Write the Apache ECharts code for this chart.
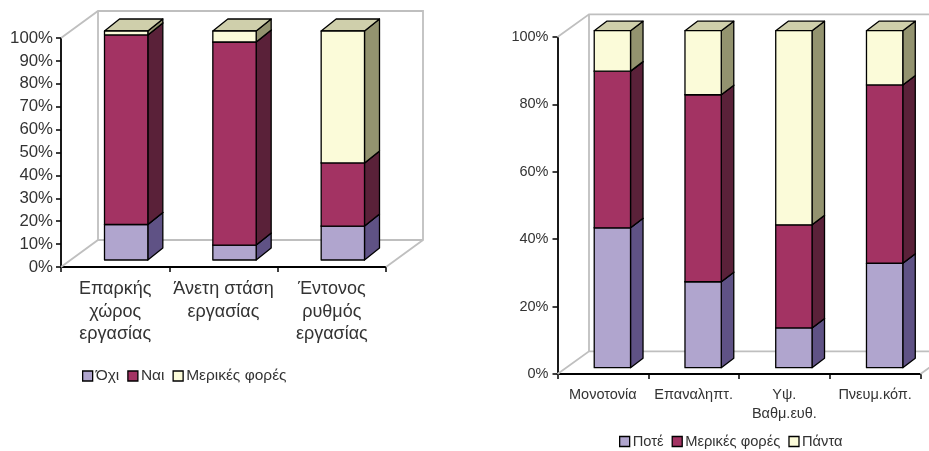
<!DOCTYPE html>
<html>
<head>
<meta charset="utf-8">
<script src="https://cdn.jsdelivr.net/npm/echarts@6/dist/echarts.min.js"></script>
<style>
html,body{margin:0;padding:0;background:#fff;overflow:hidden}
#chart{width:929px;height:451px}
</style>
</head>
<body>
<div id="chart"></div>
<script>
// Left panel: working-conditions answers, per cent
const leftCategories = ['Επαρκής\nχώρος\nεργασίας', 'Άνετη στάση\nεργασίας', 'Έντονος\nρυθμός\nεργασίας'];
const leftNames = ['Όχι', 'Ναι', 'Μερικές φορές'];
const leftNo = [15.5, 6.5, 14.8];
const leftYes = [82.8, 88.7, 27.6];
const leftSometimes = [1.7, 4.8, 57.6];

// Right panel: job-demand answers, per cent
const rightCategories = ['Μονοτονία', 'Επαναληπτ.', 'Υψ.\nΒαθμ.ευθ.', 'Πνευμ.κόπ.'];
const rightNames = ['Ποτέ', 'Μερικές φορές', 'Πάντα'];
const rightNever = [41.5, 25.5, 11.8, 31.0];
const rightSometimes = [46.5, 55.5, 30.6, 52.9];
const rightAlways = [12.0, 19.0, 57.6, 16.1];

// Front, side and top face colours of the three stacked layers
const faceColors = [
  { front: '#B0A5CE', side: '#5F5285', top: '#8A80A8' },
  { front: '#A33363', side: '#5A2139', top: '#7A2A4B' },
  { front: '#FBFBD9', side: '#93936F', top: '#CFCFAB' }
];
const wallColor = '#BFBFBF';
const inkColor = '#333333';

const chart = echarts.init(document.getElementById('chart'));

function poly(points, fill) {
  return {
    type: 'polygon',
    shape: { points },
    style: { fill, stroke: '#000', lineWidth: 1.3, lineJoin: 'round' }
  };
}

// Back wall and floor outline behind the bars, projected from the plot rectangle
function wallSeries(axisIndex, count, depth) {
  return {
    type: 'custom',
    xAxisIndex: axisIndex,
    yAxisIndex: axisIndex,
    silent: true,
    clip: false,
    z: 1,
    data: [[0, 0]],
    renderItem(params, api) {
      const band = api.size([1, 0])[0];
      const x0 = api.coord([0, 0])[0] - band / 2;
      const x1 = api.coord([count - 1, 0])[0] + band / 2;
      const yB = api.coord([0, 0])[1];
      const yT = api.coord([0, 100])[1];
      const dx = depth.wallX, dy = depth.wallY;
      const style = { fill: 'none', stroke: wallColor, lineWidth: 1.8 };
      const line = pts => ({ type: 'polyline', shape: { points: pts }, style });
      return {
        type: 'group',
        children: [
          line([[x0, yT], [x0 + dx, yT - dy], [x1 + dx, yT - dy], [x1 + dx, yB - dy], [x1, yB]]),
          line([[x0, yB], [x0 + dx, yB - dy], [x1 + dx, yB - dy]]),
          line([[x0 + dx, yT - dy], [x0 + dx, yB - dy]])
        ]
      };
    }
  };
}

// One stacked layer, each bar drawn as a box with front, side and top faces
function layerSeries(axisIndex, name, layer, values, below, depth) {
  const colors = faceColors[layer];
  return {
    type: 'custom',
    name,
    xAxisIndex: axisIndex,
    yAxisIndex: axisIndex,
    silent: true,
    clip: false,
    z: 2 + layer,
    itemStyle: { color: colors.front },
    encode: { x: 0, y: [1, 2] },
    data: values.map((v, i) => [i, below[i], below[i] + v]),
    renderItem(params, api) {
      const band = api.size([1, 0])[0];
      const w = band * 0.4;
      const bottom = api.coord([api.value(0), api.value(1)]);
      const top = api.coord([api.value(0), api.value(2)]);
      const x0 = bottom[0] - w / 2 + depth.frontX;
      const x1 = x0 + w;
      const yB = bottom[1] - depth.frontY;
      const yT = top[1] - depth.frontY;
      const dx = depth.barX, dy = depth.barY;
      return {
        type: 'group',
        children: [
          poly([[x1, yB], [x1 + dx, yB - dy], [x1 + dx, yT - dy], [x1, yT]], colors.side),
          poly([[x0, yT], [x1, yT], [x1 + dx, yT - dy], [x0 + dx, yT - dy]], colors.top),
          poly([[x0, yB], [x1, yB], [x1, yT], [x0, yT]], colors.front)
        ]
      };
    }
  };
}

function stackedLayers(axisIndex, names, layers, depth) {
  const below = layers[0].map(() => 0);
  return layers.map((values, layer) => {
    const s = layerSeries(axisIndex, names[layer], layer, values, below.slice(), depth);
    values.forEach((v, i) => { below[i] += v; });
    return s;
  });
}

function legendFor(names, left, top, fontSize, gap) {
  return {
    left, top,
    orient: 'horizontal',
    icon: 'rect',
    itemWidth: 10,
    itemHeight: 10,
    itemGap: gap,
    padding: 0,
    selectedMode: false,
    textStyle: { fontFamily: 'Liberation Sans', fontSize, color: inkColor, padding: [0, 0, 0, -2] },
    data: names.map((name, i) => ({
      name,
      itemStyle: { color: faceColors[i].front, borderColor: '#000', borderWidth: 1.3 }
    }))
  };
}

function categoryAxis(gridIndex, data, fontSize, lineHeight, margin) {
  return {
    type: 'category',
    gridIndex,
    data,
    axisLine: { onZero: false, lineStyle: { color: '#000', width: 1.8 } },
    axisTick: { show: true, alignWithLabel: false, length: 5, lineStyle: { color: '#000', width: 1.5 } },
    axisLabel: { interval: 0, margin, fontFamily: 'Liberation Sans', fontSize, lineHeight, color: inkColor },
    splitLine: { show: false }
  };
}

function valueAxis(gridIndex, interval, fontSize, margin) {
  return {
    type: 'value',
    gridIndex,
    min: 0,
    max: 100,
    interval,
    axisLine: { show: true, lineStyle: { color: '#000', width: 1.8 } },
    axisTick: { show: true, length: 5, lineStyle: { color: '#000', width: 1.5 } },
    axisLabel: {
      formatter: '{value}%',
      margin,
      fontFamily: 'Liberation Sans',
      fontSize,
      color: inkColor,
      verticalAlignMinLabel: 'middle',
      verticalAlignMaxLabel: 'middle'
    },
    splitLine: { show: false }
  };
}

const leftDepth = { wallX: 37, wallY: 27, barX: 15, barY: 12, frontX: 11, frontY: 7 };
const rightDepth = { wallX: 31.5, wallY: 22.7, barX: 12.5, barY: 9.5, frontX: 9.5, frontY: 6.3 };

chart.setOption({
  animation: false,
  backgroundColor: '#fff',
  grid: [
    { left: 61, top: 38, width: 325, height: 229 },
    { left: 557.5, top: 37, width: 363, height: 337 }
  ],
  xAxis: [
    categoryAxis(0, leftCategories, 18, 22.5, 11),
    categoryAxis(1, rightCategories, 14.5, 19.5, 11)
  ],
  yAxis: [
    valueAxis(0, 10, 16.8, 8),
    valueAxis(1, 20, 14.5, 9)
  ],
  legend: [
    legendFor(leftNames, 82, 368, 15.5, 8),
    legendFor(rightNames, 619, 434, 14.7, 8)
  ],
  series: [
    wallSeries(0, leftCategories.length, leftDepth),
    wallSeries(1, rightCategories.length, rightDepth),
    ...stackedLayers(0, leftNames, [leftNo, leftYes, leftSometimes], leftDepth),
    ...stackedLayers(1, rightNames, [rightNever, rightSometimes, rightAlways], rightDepth)
  ]
});
</script>
</body>
</html>
